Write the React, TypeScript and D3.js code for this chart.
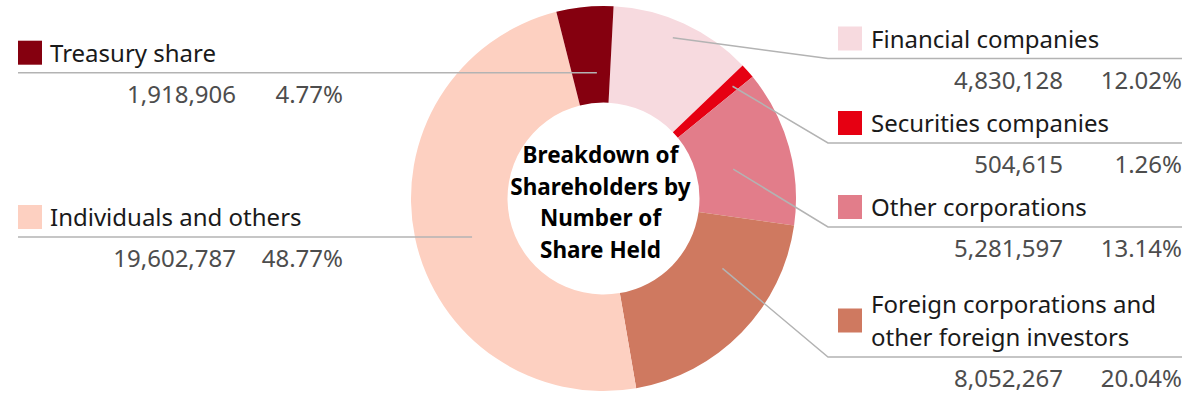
import React from "react";
import * as d3 from "d3";

const categories = [
  "Financial companies",
  "Securities companies",
  "Other corporations",
  "Foreign corporations and other foreign investors",
  "Individuals and others",
  "Treasury share",
];
const labelLines = [
  ["Financial companies"],
  ["Securities companies"],
  ["Other corporations"],
  ["Foreign corporations and", "other foreign investors"],
  ["Individuals and others"],
  ["Treasury share"],
];
const shares = [4830128, 504615, 5281597, 8052267, 19602787, 1918906];
const colors = ["#F7DADF", "#E60012", "#E27D8A", "#CF7960", "#FDD0C1", "#85000F"];
const titleLines = ["Breakdown of", "Shareholders by", "Number of", "Share Held"];

// label layout (positions only)
const layout = [
  { side: "right", lineY: 58.5, anchorFrac: 0.47, anchorR: 175 },
  { side: "right", lineY: 143, anchorFrac: 0.6, anchorR: 171 },
  { side: "right", lineY: 227, anchorFrac: 0.56, anchorR: 133 },
  { side: "right", lineY: 357, anchorFrac: 0.31, anchorR: 138 },
  { side: "left", lineY: 237, anchorFrac: 0.475, anchorR: 137 },
  { side: "left", lineY: 72.7, anchorFrac: 0.65, anchorR: 126 },
];

const W = 1200;
const H = 400;
const cx = 603.5;
const cy = 198.5;
const outerR = 192.5;
const innerR = 96;
const FONT = "'Noto Sans', sans-serif";
const FS = 24;

export default function App() {
  const total = d3.sum(shares);
  const pie = d3
    .pie<number>()
    .sort(null)
    .value((d) => d)
    .startAngle((3 * Math.PI) / 180)
    .endAngle((3 * Math.PI) / 180 + 2 * Math.PI);
  const arcs = pie(shares);
  const arc = d3.arc<d3.PieArcDatum<number>>().innerRadius(innerR).outerRadius(outerR);
  const fmtNum = d3.format(",");
  const fmtPct = (v: number) => d3.format(".2f")((v / total) * 100) + "%";

  return (
    <svg
      width={W}
      height={H}
      viewBox={`0 0 ${W} ${H}`}
      style={{ position: "absolute", left: 0, top: 0, background: "#fff" }}
    >
      <g transform={`translate(${cx},${cy})`}>
        {arcs.map((a, i) => (
          <path key={i} d={arc(a) || ""} fill={colors[i]} />
        ))}
      </g>
      {arcs.map((a, i) => {
        const L = layout[i];
        const ang = a.startAngle + (a.endAngle - a.startAngle) * L.anchorFrac;
        const ax = cx + L.anchorR * Math.sin(ang);
        const ay = cy - L.anchorR * Math.cos(ang);
        const lines = labelLines[i];
        const lineGap = 33;
        const lastBase = L.lineY - 11;
        const firstBase = lastBase - (lines.length - 1) * lineGap;
        const meanBase = (firstBase + lastBase) / 2;
        const numY = L.lineY + 30;
        if (L.side === "left") {
          const sqX = 18;
          return (
            <g key={i}>
              <polyline
                points={`${sqX},${L.lineY} ${ax},${L.lineY}`}
                fill="none"
                stroke="#B3B3B3"
                strokeWidth={1.5}
              />
              <rect x={sqX} y={meanBase - 21} width={24} height={24} fill={colors[i]} />
              <text fontFamily={FONT} fontSize={FS} fill="#1a1a1a">
                {lines.map((t, k) => (
                  <tspan key={k} x={50} y={firstBase + k * lineGap}>
                    {t}
                  </tspan>
                ))}
              </text>
              <text x={236} y={numY} textAnchor="end" fontFamily={FONT} fontSize={FS} fill="#4d4d4d">
                {fmtNum(shares[i])}
              </text>
              <text x={343} y={numY} textAnchor="end" fontFamily={FONT} fontSize={FS} fill="#4d4d4d">
                {fmtPct(shares[i])}
              </text>
            </g>
          );
        }
        const bendX = 828;
        return (
          <g key={i}>
            <polyline
              points={`${ax},${ay} ${bendX},${L.lineY} 1182,${L.lineY}`}
              fill="none"
              stroke="#B3B3B3"
              strokeWidth={1.5}
            />
            <rect x={838} y={meanBase - 21} width={24} height={24} fill={colors[i]} />
            <text fontFamily={FONT} fontSize={FS} fill="#1a1a1a">
              {lines.map((t, k) => (
                <tspan key={k} x={871} y={firstBase + k * lineGap}>
                  {t}
                </tspan>
              ))}
            </text>
            <text x={1063} y={numY} textAnchor="end" fontFamily={FONT} fontSize={FS} fill="#4d4d4d">
              {fmtNum(shares[i])}
            </text>
            <text x={1182} y={numY} textAnchor="end" fontFamily={FONT} fontSize={FS} fill="#4d4d4d">
              {fmtPct(shares[i])}
            </text>
          </g>
        );
      })}
      <text fontFamily={FONT} fontSize={22.5} fontWeight="bold" fill="#000" textAnchor="middle">
        {titleLines.map((t, k) => (
          <tspan key={k} x={cx - 3} y={163 + k * 31.7}>
            {t}
          </tspan>
        ))}
      </text>
    </svg>
  );
}
